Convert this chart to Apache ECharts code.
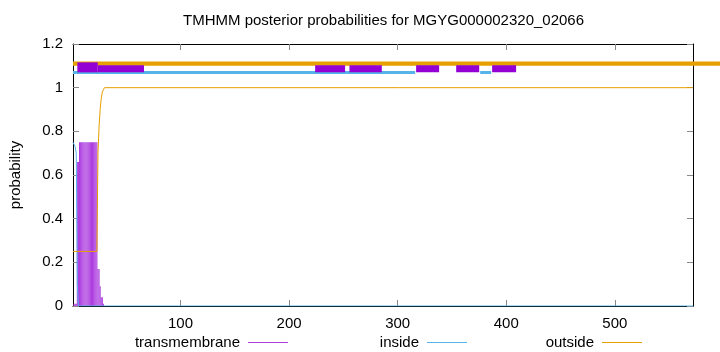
<!DOCTYPE html>
<html>
<head>
<meta charset="utf-8">
<script src="https://cdn.jsdelivr.net/npm/echarts@6/dist/echarts.min.js"></script>
<style>html,body{margin:0;padding:0;background:#fff}#c{width:720px;height:352px}</style>
</head>
<body>
<div id="c"></div>
<script>
// ---- data ----
const titleText = 'TMHMM posterior probabilities for MGYG000002320_02066';
const seqLength = 572;
const xTicks = [100, 200, 300, 400, 500];
const yTicks = [0, 0.2, 0.4, 0.6, 0.8, 1, 1.2];
// posterior probabilities (residue -> value)
const tmPos  = [2, 3, 4, 5, 6, 7, 8, 9, 10, 11, 12, 13, 14, 15, 16, 17, 18, 19, 20, 21, 22, 23, 24, 25, 26, 27, 28, 29];
const tmProb = [0.01, 0.01, 0.01, 0.66, 0.66, 0.75, 0.75, 0.75, 0.75, 0.75, 0.75, 0.75, 0.75, 0.75, 0.75, 0.75, 0.75, 0.75, 0.75, 0.75, 0.75, 0.75, 0.17, 0.17, 0.09, 0.04, 0.04, 0.01];
const insidePos  = [1, 2, 3, 4, 5, 6, 7, 572];
const insideProb = [0.75, 0.74, 0.73, 0.7, 0.1, 0.0, 0.0, 0.0];
const outsidePos  = [1, 23, 24, 25, 26, 27, 28, 29, 30, 572];
const outsideProb = [0.25, 0.25, 0.7, 0.82, 0.9, 0.95, 0.98, 0.99, 1.0, 1.0];
// predicted topology bars (start, end) and their levels
const outsideSegs = [[1, 597]];
const outsideLevel = 1.11;
const insideSegs = [[1, 316.1], [376.0, 386.1]];
const insideLevel = 1.07;
const tmSegsWide = [[5, 23.8]];
const tmSegs = [[23.8, 42.7], [42.7, 66.4], [224.0, 251.6], [255.6, 285.4], [317.0, 338.2], [353.9, 375.1], [387.0, 409.1]];
const tmLevel = 1.087;
const tmLevelWide = 1.093;

// ---- build ----
const zip = (xs, ys) => xs.map((x, i) => [x, ys[i]]);
const segData = (segs, lvl) => {
  const out = [];
  segs.forEach((s, i) => {
    if (i > 0) out.push([(segs[i - 1][1] + s[0]) / 2, null]);
    out.push([s[0], lvl], [s[1], lvl]);
  });
  return out;
};
const C_TM = '#ad3fe0', C_TMBAR = '#9400d3', C_IN = '#56b4e9', C_OUT = '#e69f00';
const font = 'Liberation Sans, Arial, sans-serif';
const GRID_L = 73, GRID_R = 27, GRID_T = 44, GRID_B = 46, W = 720;
// extended range for the outside bar, which runs past the frame to the page edge
const extMax = 1 + (seqLength - 1) * (W - GRID_L) / (W - GRID_L - GRID_R);

const chart = echarts.init(document.getElementById('c'), null, {renderer: 'canvas'});
const axisCommon = {
  type: 'value', min: 1, max: seqLength,
  splitLine: {show: false},
  axisLine: {show: true, onZero: false, lineStyle: {color: '#000', width: 1}},
};
const legendCommon = {
  top: 330, align: 'right', icon: 'rect', itemWidth: 40, itemHeight: 1,
  textStyle: {fontFamily: font, fontSize: 15, color: '#000', padding: [0, 3, 0, 0]}
};
chart.setOption({
  animation: false,
  backgroundColor: '#fff',
  title: {
    text: titleText, left: 178, top: 8,
    textStyle: {fontFamily: font, fontSize: 15, fontWeight: 'normal', color: '#000'}
  },
  grid: [
    {left: GRID_L, right: GRID_R, top: GRID_T, bottom: GRID_B},
    {left: GRID_L, right: 0, top: GRID_T, bottom: GRID_B}
  ],
  legend: [
    Object.assign({data: ['transmembrane'], right: 427}, legendCommon),
    Object.assign({data: ['inside'], right: 248}, legendCommon),
    Object.assign({data: ['outside'], right: 73}, legendCommon)
  ],
  xAxis: [
    Object.assign({}, axisCommon, {
      position: 'bottom', gridIndex: 0,
      axisTick: {show: true, inside: true, length: 6, customValues: xTicks, lineStyle: {color: '#888'}},
      axisLabel: {show: true, customValues: xTicks, margin: 10, fontFamily: font, fontSize: 15, color: '#000'}
    }),
    Object.assign({}, axisCommon, {
      position: 'top', gridIndex: 0,
      axisTick: {show: true, inside: true, length: 6, customValues: xTicks, lineStyle: {color: '#888'}},
      axisLabel: {show: false}
    }),
    {type: 'value', gridIndex: 1, min: 1, max: extMax, show: false}
  ],
  yAxis: [
    {
      type: 'value', min: 0, max: 1.2, interval: 0.2, position: 'left', gridIndex: 0,
      name: 'probability', nameLocation: 'middle', nameGap: 50, nameRotate: 90,
      nameTextStyle: {fontFamily: font, fontSize: 15, color: '#000'},
      splitLine: {show: false},
      axisLine: {show: true, onZero: false, lineStyle: {color: '#000'}},
      axisTick: {show: true, inside: true, length: 6, lineStyle: {color: '#888'}},
      axisLabel: {margin: 10, fontFamily: font, fontSize: 15, color: '#000',
        formatter: v => String(+v.toFixed(1))}
    },
    {
      type: 'value', min: 0, max: 1.2, interval: 0.2, position: 'right', gridIndex: 0,
      splitLine: {show: false},
      axisLine: {show: true, onZero: false, lineStyle: {color: '#000'}},
      axisTick: {show: true, inside: true, length: 6, lineStyle: {color: '#888'}},
      axisLabel: {show: false}
    },
    {type: 'value', gridIndex: 1, min: 0, max: 1.2, show: false}
  ],
  series: [
    {
      name: 'transmembrane', type: 'bar', data: zip(tmPos, tmProb),
      barWidth: 1.1, itemStyle: {color: C_TM}, z: 2
    },
    {
      name: 'inside', type: 'line', data: zip(insidePos, insideProb),
      showSymbol: false, symbol: 'none', lineStyle: {color: C_IN, width: 1}, itemStyle: {color: C_IN}, z: 3
    },
    {
      name: 'outside', type: 'line', data: zip(outsidePos, outsideProb),
      showSymbol: false, symbol: 'none', lineStyle: {color: C_OUT, width: 1}, itemStyle: {color: C_OUT}, z: 4
    },
    {
      name: 'insideBar', type: 'line', data: segData(insideSegs, insideLevel),
      symbol: 'none', connectNulls: false, lineStyle: {color: C_IN, width: 3, cap: 'butt'}, z: 5
    },
    {
      name: 'outsideBar', type: 'line', xAxisIndex: 2, yAxisIndex: 2,
      data: segData(outsideSegs, outsideLevel), clip: false,
      symbol: 'none', connectNulls: false, lineStyle: {color: C_OUT, width: 4.3, cap: 'butt'}, z: 6
    },
    {
      name: 'tmBar', type: 'line', data: segData(tmSegs, tmLevel),
      symbol: 'none', connectNulls: false, lineStyle: {color: C_TMBAR, width: 7, cap: 'butt'}, z: 7
    },
    {
      name: 'tmBarWide', type: 'line', data: segData(tmSegsWide, tmLevelWide),
      symbol: 'none', connectNulls: false, lineStyle: {color: C_TMBAR, width: 10, cap: 'butt'}, z: 8
    }
  ]
});
</script>
</body>
</html>
